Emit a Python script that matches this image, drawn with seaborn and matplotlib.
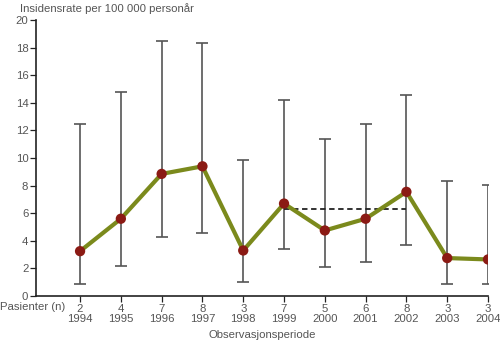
import matplotlib
matplotlib.use("Agg")
import matplotlib.pyplot as plt
import seaborn as sns
import pandas as pd
import numpy as np

years = ["1994", "1995", "1996", "1997", "1998", "1999", "2000", "2001", "2002", "2003", "2004"]
patients = [2, 4, 7, 8, 3, 7, 5, 6, 8, 3, 3]
rate = [3.25, 5.6, 8.85, 9.4, 3.3, 6.7, 4.75, 5.6, 7.55, 2.75, 2.65]
upper = [12.5, 14.8, 18.5, 18.35, 9.85, 14.2, 11.4, 12.5, 14.6, 8.35, 8.05]
lower = [0.9, 2.2, 4.25, 4.55, 1.05, 3.4, 2.1, 2.5, 3.7, 0.85, 0.9]
ref_level = 6.3
ref_span = ["1999", "2002"]

sns.set_theme(style="ticks")
plt.rcParams['font.family'] = ['Liberation Sans', 'DejaVu Sans']
text_col = "#555555"
fs = 8.2

df = pd.DataFrame({"idx": np.arange(len(years)), "rate": rate})

fig = plt.figure(figsize=(5.0, 3.46), dpi=100)
ax = fig.add_axes([0.072, 0.1445, 0.904, 0.7975])

err = [np.array(rate) - np.array(lower), np.array(upper) - np.array(rate)]
ax.errorbar(df["idx"], rate, yerr=err, fmt="none", ecolor="#555555",
            elinewidth=1.2, capsize=4, capthick=1.2, zorder=1)
i0, i1 = years.index(ref_span[0]), years.index(ref_span[1])
ax.plot([i0, i1], [ref_level, ref_level], ls=(0, (3, 2)), color="#222222", lw=1.3, zorder=2)
sns.lineplot(data=df, x="idx", y="rate", ax=ax, color="#7b8a1c", lw=3, zorder=3)
sns.scatterplot(data=df, x="idx", y="rate", ax=ax, color="#8b1a14", s=55,
                edgecolor="none", zorder=4)

ax.set_xlim(-1.08, len(years) - 1)
ax.set_ylim(0, 20)
ax.set_yticks(range(0, 21, 2))
ax.set_xticks(range(len(years)))
ax.set_xticklabels([f"{n}\n{y}" for n, y in zip(patients, years)], linespacing=1.05)
ax.tick_params(axis="both", labelsize=fs, length=4, width=0.9, pad=1.5,
               colors="#222222", labelcolor=text_col)
for s in ["left", "bottom"]:
    ax.spines[s].set_color("#222222")
    ax.spines[s].set_linewidth(1.2)
sns.despine(ax=ax)
ax.set_xlabel("Observasjonsperiode", color=text_col, fontsize=fs, labelpad=4)
ax.set_ylabel("")
fig.text(0.04, 0.96, "Insidensrate per 100 000 personår", color=text_col,
         fontsize=fs, ha="left", va="bottom")
fig.text(0.0, 0.113, "Pasienter (n)", color=text_col, fontsize=fs, ha="left", va="center")

fig.savefig("out.png", dpi=100)
